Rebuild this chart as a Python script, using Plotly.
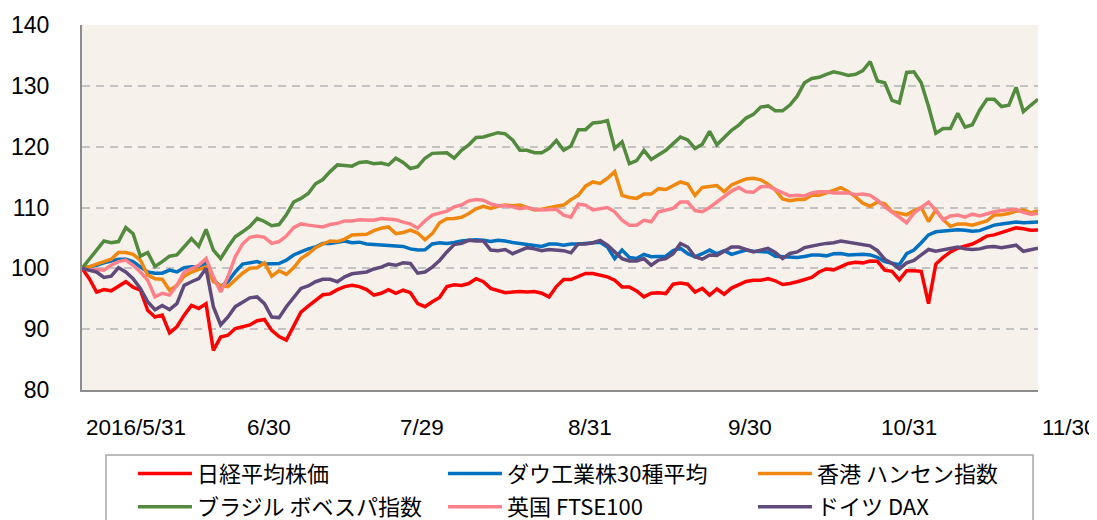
import pandas as pd
import plotly.graph_objects as go

# Trading days (weekdays) from 2016/5/31 to 2016/11/30
dates = pd.bdate_range("2016-05-31", "2016-11-30").strftime("%Y-%m-%d").tolist()

series_names = ["日経平均株価", "ダウ工業株30種平均", "香港 ハンセン指数",
                "ブラジル ボベスパ指数", "英国 FTSE100", "ドイツ DAX"]

nikkei = [100.0, 98.3, 96.1, 96.5, 96.3, 97.0, 97.8, 96.9, 96.4, 93.1, 92.0, 92.3, 89.4, 90.4, 92.3, 93.9, 93.4, 94.2, 86.5, 88.7, 89.0, 90.1, 90.4,
          90.7, 91.4, 91.6, 89.8, 88.8, 88.2, 90.4, 92.8, 93.8, 94.7, 95.65, 95.8, 96.5, 97.0, 97.2, 97.0, 96.5, 95.6, 95.9, 96.5, 95.9, 96.4,
          96.0, 94.2, 93.7, 94.5, 95.2, 97.0, 97.3, 97.2, 97.5, 98.3, 97.8, 96.7, 96.4, 96.0, 96.1, 96.2, 96.1, 96.2, 95.9, 95.3, 97.0,
          98.15, 98.15, 98.6, 99.15, 99.15, 98.8, 98.6, 98.05, 96.95, 96.95, 96.3, 95.3, 95.9, 96.0, 95.85, 97.4, 97.6, 97.4, 96.1, 96.7, 95.6, 96.6,
          95.75, 96.75, 97.35, 97.85, 98.05, 98.05, 98.3, 97.95, 97.35, 97.5, 97.8, 98.2, 98.5, 99.4, 99.9, 99.75, 100.25, 100.8, 101.0, 100.9, 101.2, 101.15,
          99.7, 99.5, 98.1, 99.6, 99.6, 99.5, 94.2, 100.7, 101.8, 102.7, 103.3, 103.6, 104.0, 104.6, 105.3, 105.5, 105.9, 106.4, 106.65, 106.5, 106.25, 106.3]

dow = [100.0, 100.25, 100.5, 100.9, 101.2, 101.5, 101.5, 101.1, 100.25, 99.4, 99.2, 99.2, 99.7, 99.4, 100.1, 100.25, 100.25, 100.9, 98.1, 97.0, 97.8, 99.4, 100.7,
       100.9, 101.1, 100.7, 100.7, 100.8, 101.35, 102.2, 102.7, 103.2, 103.5, 104.1, 104.1, 104.3, 104.5, 104.2, 104.3, 104.0, 103.9, 103.9, 103.8, 103.7, 103.6,
       103.2, 103.0, 103.05, 104.0, 104.2, 104.1, 104.25, 104.5, 104.6, 104.7, 104.6, 104.4, 104.6, 104.5, 104.25, 104.1, 104.0, 103.8, 103.6, 104.0, 104.0,
       103.8, 104.0, 104.0, 104.1, 104.2, 104.3, 103.5, 101.6, 103.0, 101.8, 101.6, 102.3, 101.9, 101.9, 102.0, 102.9, 103.3, 102.4, 101.9, 102.4, 103.0, 102.4,
       102.9, 102.3, 102.7, 103.0, 102.8, 102.7, 102.7, 102.0, 101.95, 101.85, 101.8, 101.95, 102.2, 102.2, 102.05, 102.4, 102.45, 102.2, 102.3, 102.3, 102.2, 101.8,
       101.1, 100.9, 100.6, 102.4, 103.0, 104.2, 105.5, 106.0, 106.1, 106.3, 106.35, 106.25, 106.1, 106.2, 106.6, 107.1, 107.3, 107.5, 107.6, 107.5, 107.6, 107.6]

hangseng = [100.0, 100.25, 100.7, 101.1, 101.5, 102.6, 102.6, 102.3, 101.35, 98.9, 98.3, 98.2, 96.4, 97.2, 98.7, 99.4, 99.8, 100.25, 97.8, 97.2, 97.0, 98.1, 99.2,
            100.0, 100.1, 100.9, 98.7, 99.6, 99.0, 100.1, 101.6, 102.4, 103.4, 104.0, 104.5, 104.4, 104.8, 105.5, 105.6, 105.6, 106.2, 106.6, 106.8, 105.7, 105.9,
            106.3, 105.8, 104.7, 105.7, 107.5, 108.15, 108.2, 108.4, 109.0, 109.8, 110.2, 109.85, 110.2, 110.4, 110.3, 110.4, 110.0, 109.6, 109.7, 110.0, 110.2,
            110.4, 111.3, 112.0, 113.5, 114.2, 113.95, 114.8, 115.9, 112.0, 111.65, 111.5, 112.2, 112.2, 113.1, 112.95, 113.5, 114.2, 113.85, 112.0, 113.3, 113.4, 113.6,
            112.6, 113.7, 114.2, 114.7, 114.8, 114.55, 113.85, 112.9, 111.4, 111.1, 111.3, 111.3, 112.0, 112.0, 112.4, 112.9, 113.25, 112.6, 111.75, 110.7, 110.2, 110.9,
            110.6, 109.3, 109.0, 108.8, 109.5, 110.0, 107.7, 109.6, 108.0, 106.9, 107.3, 107.3, 107.1, 107.5, 107.8, 108.75, 108.8, 109.0, 109.4, 109.6, 109.1, 109.5]

bovespa = [100.0, 101.6, 103.0, 104.5, 104.2, 104.4, 106.7, 105.7, 102.0, 102.6, 100.3, 101.1, 102.0, 102.2, 103.6, 104.9, 103.6, 106.4, 103.0, 101.6, 103.5, 105.2, 106.0,
           106.9, 108.2, 107.7, 107.0, 107.2, 108.8, 110.9, 111.5, 112.3, 113.9, 114.6, 115.9, 117.0, 116.9, 116.8, 117.4, 117.5, 117.2, 117.3, 117.0, 118.1, 117.4,
           116.4, 116.7, 118.1, 118.9, 119.0, 119.0, 118.1, 119.4, 120.3, 121.5, 121.6, 122.0, 122.3, 122.1, 121.1, 119.4, 119.4, 119.0, 119.0, 119.7, 121.0,
           119.4, 120.1, 122.8, 122.8, 123.9, 124.0, 124.3, 119.7, 120.8, 117.2, 117.7, 119.4, 117.9, 118.6, 119.4, 120.5, 121.6, 121.1, 119.7, 120.4, 122.5, 120.3,
           121.5, 122.7, 123.55, 124.7, 125.3, 126.5, 126.7, 125.9, 125.9, 126.85, 128.3, 130.5, 131.2, 131.4, 131.9, 132.3, 132.05, 131.7, 131.9, 132.5, 134.0, 130.8,
           130.5, 127.6, 127.2, 132.2, 132.3, 130.5, 126.6, 122.2, 123.0, 123.0, 125.5, 123.2, 123.6, 126.0, 127.8, 127.8, 126.6, 126.8, 129.75, 125.75, 126.8, 127.8]

ftse = [100.0, 99.7, 99.8, 99.7, 100.5, 101.1, 101.35, 100.5, 99.4, 98.05, 95.3, 95.9, 95.6, 97.2, 99.4, 100.0, 100.5, 101.6, 98.6, 96.1, 98.6, 101.9, 104.0,
        105.1, 105.3, 105.1, 104.1, 104.4, 105.3, 106.7, 107.3, 107.1, 106.9, 106.8, 107.2, 107.4, 107.8, 107.8, 108.0, 107.9, 107.9, 108.2, 108.1, 108.0, 107.6,
        107.3, 106.6, 107.8, 108.75, 109.1, 109.4, 110.1, 110.4, 111.1, 111.3, 111.2, 110.6, 110.3, 110.3, 110.1, 109.8, 110.0, 109.7, 109.6, 109.7, 109.7,
        108.75, 108.4, 110.55, 110.4, 109.6, 109.85, 110.0, 109.3, 107.9, 107.1, 107.1, 107.9, 107.65, 109.3, 109.6, 109.85, 110.9, 110.9, 109.5, 109.3, 110.0, 110.85,
        111.8, 112.7, 113.3, 112.6, 112.5, 113.4, 113.5, 113.0, 112.4, 111.9, 112.0, 111.9, 112.4, 112.6, 112.6, 112.4, 112.4, 112.4, 112.1, 112.2, 112.0, 111.2,
        110.1, 109.3, 108.4, 107.5, 109.1, 110.0, 110.9, 109.5, 108.0, 108.6, 108.75, 108.4, 108.9, 108.6, 109.0, 109.3, 109.5, 109.6, 109.7, 109.2, 108.9, 109.0]

dax = [100.0, 99.7, 99.4, 98.5, 98.7, 100.1, 99.4, 98.3, 96.7, 94.5, 93.2, 93.9, 93.2, 94.2, 97.2, 97.8, 98.3, 100.0, 93.7, 90.7, 92.0, 93.7, 94.45,
       95.15, 95.3, 94.2, 92.0, 91.9, 93.7, 95.3, 96.7, 97.1, 97.8, 98.2, 98.2, 97.8, 98.6, 99.1, 99.2, 99.4, 99.9, 100.2, 100.7, 100.5, 100.9,
       100.8, 99.2, 99.4, 100.2, 101.3, 102.7, 103.9, 104.1, 104.6, 104.5, 104.5, 103.0, 102.9, 103.1, 102.4, 102.9, 103.4, 103.2, 102.9, 103.1, 103.0,
       102.9, 102.55, 104.0, 104.0, 104.2, 104.6, 103.8, 102.7, 101.6, 101.2, 101.2, 101.6, 100.5, 101.35, 101.6, 102.4, 104.1, 103.5, 101.9, 101.5, 102.2, 102.1,
       102.8, 103.5, 103.5, 103.1, 102.7, 103.0, 103.3, 102.6, 101.6, 102.45, 102.7, 103.4, 103.7, 103.9, 104.1, 104.2, 104.5, 104.3, 104.1, 104.0, 103.7, 102.9,
       101.5, 100.8, 99.9, 100.9, 101.3, 102.2, 103.1, 102.8, 103.0, 103.3, 103.5, 103.2, 103.1, 103.2, 103.5, 103.6, 103.4, 103.6, 103.8, 102.8, 103.1, 103.3]

tick_dates = ["2016-05-31", "2016-06-30", "2016-07-29", "2016-08-31", "2016-09-30", "2016-10-31", "2016-11-30"]
tick_labels = ["2016/5/31", "6/30", "7/29", "8/31", "9/30", "10/31", "11/30"]

colors = ["#FF0000", "#0070C0", "#F0880F", "#528A3E", "#FF8088", "#604A7B"]
all_series = [nikkei, dow, hangseng, bovespa, ftse, dax]
legend_rows = ["legend", "legend", "legend", "legend2", "legend2", "legend2"]

fig = go.Figure()
for name, vals, col, lg in zip(series_names, all_series, colors, legend_rows):
    fig.add_trace(go.Scatter(x=dates, y=vals, mode="lines", name=name, legend=lg,
                             line=dict(color=col, width=3.5)))

legend_common = dict(orientation="h", x=0.0533, xanchor="left", yanchor="top",
                     font=dict(size=22, family="Noto Sans CJK JP", color="black"),
                     itemwidth=54, entrywidth=241, entrywidthmode="pixels",
                     bgcolor="rgba(0,0,0,0)", borderwidth=0, traceorder="normal")

fig.update_layout(
    width=1089, height=512,
    margin=dict(l=74, r=59, t=17, b=130, autoexpand=False),
    paper_bgcolor="white",
    plot_bgcolor="#F6F2EB",
    showlegend=True,
    legend=dict(legend_common, y=-0.172),
    legend2=dict(legend_common, y=-0.263),
)

fig.update_xaxes(type="category", range=[0, len(dates) - 1], showticklabels=False,
                 showgrid=False, showline=True, linecolor="#8C8C8C", linewidth=2,
                 ticks="", zeroline=False, automargin=False)
fig.update_yaxes(range=[80, 140], tick0=80, dtick=10, showgrid=True,
                 gridcolor="#C3C3C3", griddash="8px,6px", gridwidth=1.5,
                 showline=True, linecolor="#8C8C8C", linewidth=2, zeroline=False,
                 ticks="", ticklabelstandoff=26, automargin=False,
                 tickfont=dict(size=23, family="Arial, Liberation Sans", color="black"))

for d, lab in zip(tick_dates, tick_labels):
    fig.add_annotation(x=dates.index(d), y=0, xref="x", yref="paper", text=lab,
                       showarrow=False, xanchor="left", yanchor="middle",
                       xshift=2, yshift=-37,
                       font=dict(size=22.5, family="Arial, Liberation Sans", color="black"))

# legend frame
fig.add_shape(type="rect", xref="paper", yref="paper",
              x0=0.0251, x1=0.9948, y0=-0.178, y1=-0.40,
              line=dict(color="#A6A6A6", width=1.5), fillcolor="rgba(0,0,0,0)",
              layer="above")

fig.write_html("out.html")
